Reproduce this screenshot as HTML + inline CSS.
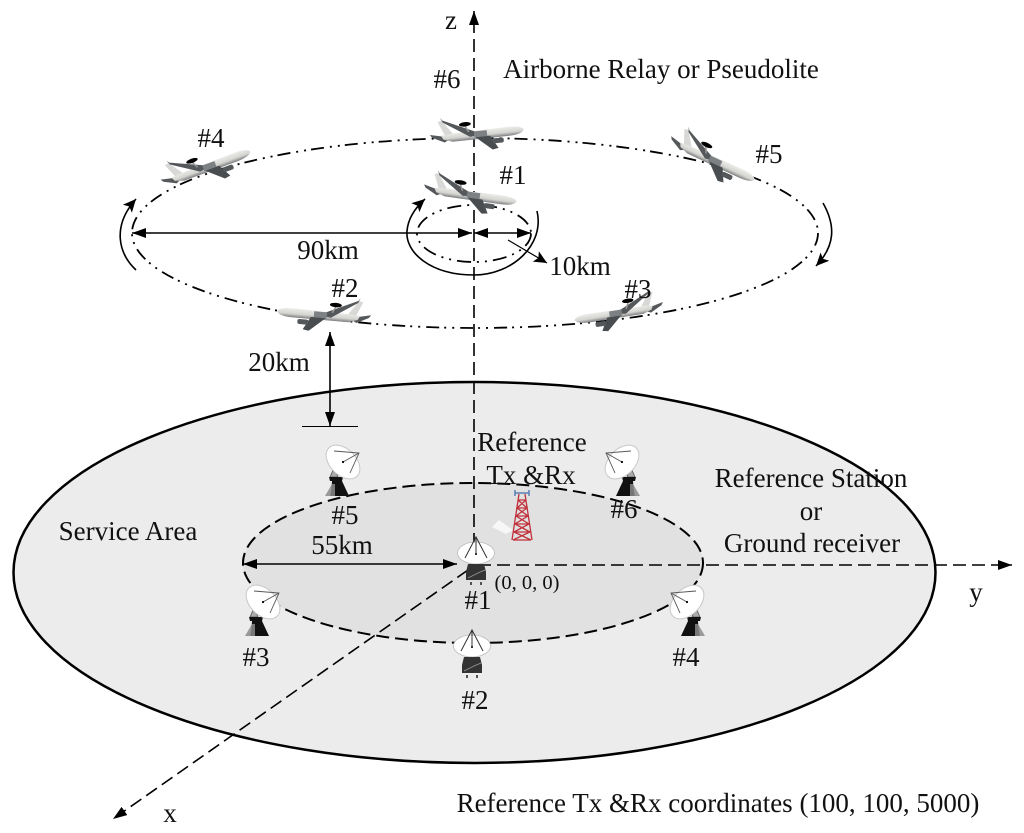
<!DOCTYPE html>
<html><head><meta charset="utf-8"><title>Airborne relay geometry</title>
<style>
html,body{margin:0;padding:0;background:#fff}
svg{display:block;filter:blur(.35px)}
text{font-family:"Liberation Serif",serif;font-size:27px;fill:#111;text-anchor:middle}
</style></head><body>
<svg width="1024" height="833" viewBox="0 0 1024 833" xmlns="http://www.w3.org/2000/svg">
<defs>
<marker id="a" markerWidth="16" markerHeight="12" refX="14" refY="5" orient="auto-start-reverse" markerUnits="userSpaceOnUse"><path d="M0 0L14 5L0 10Z" fill="#000"/></marker>
<marker id="b" markerWidth="16" markerHeight="14" refX="13" refY="6" orient="auto" markerUnits="userSpaceOnUse"><path d="M0 0L13 6L0 12L3 6Z" fill="#000"/></marker>
<linearGradient id="fus" x1="0" y1="0" x2="0" y2="1"><stop offset="0" stop-color="#ececea"/><stop offset=".6" stop-color="#d4d4d0"/><stop offset="1" stop-color="#7c7d80"/></linearGradient>
<g id="plane">
<path d="M-25-3L-33-2L-39-16L-35-17Z" fill="#d8d8d6"/>
<path d="M-26 1L-48-4L-46-1L-34 5Z" fill="#55585a"/>
<path d="M46 0C44-3 38-4 30-4L-26-3L-37-2L-35 2L-26 5L30 5C40 5 45 3 46 0Z" fill="url(#fus)"/>
<path d="M-3-3L-34-17L-36-20L-34-15L-8 2L6 0Z" fill="#55585b"/>
<path d="M-4 2L13 17L19 16L12 3Z" fill="#4a4d50"/>
<rect x="14" y="6" width="11" height="5" rx="2" fill="#55585a"/>
<rect x="-4" y="-3" width="13" height="6" fill="#7d8184"/>
<path d="M-12-9L-9-3" stroke="#999" stroke-width="1.500"/>
<ellipse cx="-12" cy="-11" rx="6" ry="2.200" fill="#000"/>
</g>
<g id="dishA">
<ellipse cx="0" cy="0" rx="18.500" ry="11" fill="#fff" stroke="#bbb" stroke-width=".8"/>
<path d="M-11 5L0-16L11 5M0-16L0 2" fill="none" stroke="#333" stroke-width="1"/>
<circle cx="0" cy="1" r="1" fill="#000"/>
<path d="M-8 11H8L10 19V27H-10V19Z" fill="#333"/>
<path d="M-8 25L2 20L9 17" stroke="#999" fill="none" stroke-width=".8"/>
<path d="M-5 29V32M5 29V32" stroke="#222" stroke-width="1.500"/>
</g>
<g id="dishB">
<path d="M-13 15L-9 6L-5 15Z" fill="#aaa" stroke="#555" stroke-width=".8"/>
<path d="M-14 15H0L-1 19H-13Z" fill="#111"/>
<path d="M-11 19H-1L6 34H-12Z" fill="#111"/>
<path d="M-11 22L-13 34H-18Z" fill="#999"/>
<path d="M-8 22L-8 34H-13L-11 22Z" fill="#777"/>
<g transform="rotate(45)"><ellipse cx="0" cy="0" rx="20" ry="13" fill="#fff" stroke="#c8c8c8" stroke-width="1"/></g>
<path d="M-9-11L16-9L7 11M16-9L0 0" fill="none" stroke="#555" stroke-width=".9"/>
<circle cx="0" cy="0" r="1.100" fill="#000"/>
</g>
</defs>
<rect width="1024" height="833" fill="#fff"/>

<ellipse cx="474.500" cy="572.500" rx="461" ry="190.500" fill="#ececec" stroke="#000" stroke-width="2.500"/>
<ellipse cx="473" cy="563" rx="230" ry="80" fill="#e1e1e1" stroke="#000" stroke-width="2" stroke-dasharray="13 6"/>

<ellipse cx="475" cy="233" rx="343" ry="95" fill="none" stroke="#000" stroke-width="1.800" stroke-dasharray="13 6 2 6 2 5"/>
<ellipse cx="474" cy="233.500" rx="57" ry="28.500" fill="none" stroke="#000" stroke-width="1.800" stroke-dasharray="14 6 2 6 2 6"/>

<path d="M474 565V11" stroke="#000" stroke-width="1.600" stroke-dasharray="13 6" fill="none" marker-end="url(#a)"/>
<path d="M478 565H1012" stroke="#000" stroke-width="1.600" stroke-dasharray="13 6" fill="none" marker-end="url(#a)"/>
<path d="M468 570L113 819" stroke="#000" stroke-width="1.600" stroke-dasharray="13 6" fill="none" marker-end="url(#a)"/>

<path d="M132 233H472" stroke="#000" stroke-width="1.600" marker-start="url(#a)" marker-end="url(#a)"/>
<path d="M474 233H531" stroke="#000" stroke-width="1.600" marker-start="url(#a)" marker-end="url(#a)"/>
<path d="M243 564H457" stroke="#000" stroke-width="1.600" marker-start="url(#a)" marker-end="url(#a)"/>
<path d="M330 332V426" stroke="#000" stroke-width="1.600" marker-start="url(#a)" marker-end="url(#a)"/>
<path d="M302 426.500H358" stroke="#000" stroke-width="1"/>
<path d="M508 240L547 263" stroke="#000" stroke-width="1.200" marker-end="url(#b)"/>

<path d="M537 211C545 245 512 275 474 275C430 275 405 252 407 231C408 219 415 208 425 199" fill="none" stroke="#000" stroke-width="1.600" marker-end="url(#b)"/>
<path d="M136 270C118 253 112 226 136 199" fill="none" stroke="#000" stroke-width="1.600" marker-end="url(#b)"/>
<path d="M823 203C836 226 835 246 816 266" fill="none" stroke="#000" stroke-width="1.600" marker-end="url(#b)"/>

<use href="#plane" transform="translate(478,134) rotate(-6)"/>
<use href="#plane" transform="translate(207,167) rotate(-20)"/>
<use href="#plane" transform="translate(471,195) rotate(8)"/>
<use href="#plane" transform="translate(323,315) rotate(5) scale(-1,1)"/>
<use href="#plane" transform="translate(618,313) rotate(-9) scale(-.96,.96)"/>
<use href="#plane" transform="translate(713,160) rotate(25)"/>

<use href="#dishA" transform="translate(476,553)"/>
<use href="#dishA" transform="translate(472,646)"/>
<use href="#dishB" transform="translate(263,602)"/>
<use href="#dishB" transform="translate(343,462)"/>
<use href="#dishB" transform="translate(622,462) scale(-1,1)"/>
<use href="#dishB" transform="translate(687,602) scale(-1,1)"/>

<g fill="none" stroke="#c0303a" stroke-width="1.300">
<path d="M519 494L512 540M525 494L532 540M518 500H526M517 508H527M516 516H528M515 524H529M514 532H530M513 540H531M518 500L527 508L516 516L529 524L514 532L531 540M526 500L517 508L528 516L515 524L530 532L513 540"/>
</g>
<path d="M515 490V496M529 490V496M515 493H529" stroke="#5a7fb5" stroke-width="1.500" fill="none"/>
<path d="M492 527L499 520L513 530L506 534Z" fill="#f7f7f7"/>

<text x="451" y="29">z</text>
<text x="661" y="78">Airborne Relay or Pseudolite</text>
<text x="447" y="88">#6</text>
<text x="211" y="147">#4</text>
<text x="769" y="163">#5</text>
<text x="513" y="184">#1</text>
<text x="345" y="297">#2</text>
<text x="638" y="298">#3</text>
<text x="328" y="259">90km</text>
<text x="580" y="275">10km</text>
<text x="279" y="371">20km</text>
<text x="128" y="540">Service Area</text>
<text x="532" y="451">Reference</text>
<text x="531" y="484">Tx &amp;Rx</text>
<text x="811" y="487">Reference Station</text>
<text x="811" y="520">or</text>
<text x="812" y="552">Ground receiver</text>
<text x="976" y="601">y</text>
<text x="345" y="524">#5</text>
<text x="624" y="518">#6</text>
<text x="342" y="554">55km</text>
<text x="478" y="609">#1</text>
<text x="475" y="709">#2</text>
<text x="256" y="666">#3</text>
<text x="686" y="666">#4</text>
<text x="527" y="589" style="font-size:20.500px">(0, 0, 0)</text>
<text x="170" y="822">x</text>
<text x="718" y="812">Reference Tx &amp;Rx coordinates (100, 100, 5000)</text>
</svg>
</body></html>
